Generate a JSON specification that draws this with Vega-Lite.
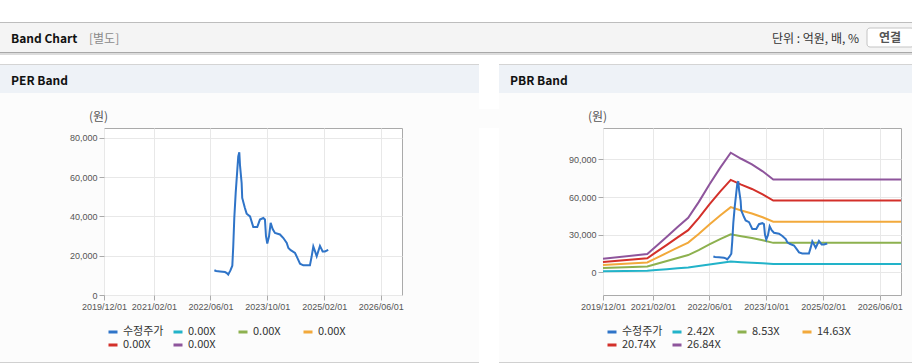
{
  "$schema": "https://vega.github.io/schema/vega-lite/v6.json",
  "background": "#fcfcfc",
  "padding": 0,
  "spacing": 0,
  "config": {
    "font": "Noto Sans CJK KR",
    "view": {"stroke": null},
    "axis": {
      "labelFont": "Liberation Sans",
      "labelFontSize": 9,
      "labelColor": "#555555",
      "tickColor": "#aaaaaa",
      "tickSize": 5,
      "gridColor": "#e8e8e8",
      "domain": false,
      "labelPadding": 2,
      "titleFont": "Noto Sans CJK KR",
      "titleFontWeight": "normal",
      "titleFontSize": 12,
      "titleColor": "#555555"
    }
  },
  "datasets": {
    "price": [
      {"date": "2022-07-05", "price": 12600},
      {"date": "2022-07-20", "price": 12200},
      {"date": "2022-08-22", "price": 12000},
      {"date": "2022-10-04", "price": 11700},
      {"date": "2022-10-20", "price": 11200},
      {"date": "2022-11-01", "price": 10400},
      {"date": "2022-11-20", "price": 12500},
      {"date": "2022-12-06", "price": 14900},
      {"date": "2022-12-14", "price": 24700},
      {"date": "2022-12-23", "price": 39200},
      {"date": "2023-01-04", "price": 52000},
      {"date": "2023-01-18", "price": 63800},
      {"date": "2023-01-26", "price": 70600},
      {"date": "2023-02-04", "price": 72600},
      {"date": "2023-02-10", "price": 66000},
      {"date": "2023-02-24", "price": 57000},
      {"date": "2023-03-01", "price": 49400},
      {"date": "2023-03-24", "price": 44300},
      {"date": "2023-04-08", "price": 41400},
      {"date": "2023-05-07", "price": 40000},
      {"date": "2023-06-04", "price": 34600},
      {"date": "2023-07-08", "price": 34600},
      {"date": "2023-07-31", "price": 38400},
      {"date": "2023-08-29", "price": 39200},
      {"date": "2023-09-12", "price": 38400},
      {"date": "2023-09-21", "price": 29900},
      {"date": "2023-10-02", "price": 26200},
      {"date": "2023-10-17", "price": 29900},
      {"date": "2023-10-31", "price": 36700},
      {"date": "2023-11-17", "price": 33600},
      {"date": "2023-12-07", "price": 31600},
      {"date": "2024-01-19", "price": 30800},
      {"date": "2024-02-17", "price": 29000},
      {"date": "2024-03-17", "price": 26500},
      {"date": "2024-03-31", "price": 23900},
      {"date": "2024-04-20", "price": 22800},
      {"date": "2024-05-27", "price": 21400},
      {"date": "2024-06-16", "price": 18900},
      {"date": "2024-07-09", "price": 15900},
      {"date": "2024-08-06", "price": 15100},
      {"date": "2024-10-02", "price": 15100},
      {"date": "2024-10-17", "price": 19700},
      {"date": "2024-10-31", "price": 24700},
      {"date": "2024-11-15", "price": 22200},
      {"date": "2024-11-29", "price": 19700},
      {"date": "2024-12-27", "price": 25000},
      {"date": "2025-01-19", "price": 22200},
      {"date": "2025-02-08", "price": 22200},
      {"date": "2025-03-08", "price": 23000}
    ],
    "bands": [
      {"date": "2019-12-01", "band": "2.42X", "value": 974},
      {"date": "2020-12-15", "band": "2.42X", "value": 1316},
      {"date": "2021-03-01", "band": "2.42X", "value": 1879},
      {"date": "2021-06-01", "band": "2.42X", "value": 2560},
      {"date": "2021-09-01", "band": "2.42X", "value": 3255},
      {"date": "2021-12-01", "band": "2.42X", "value": 3923},
      {"date": "2022-03-01", "band": "2.42X", "value": 5048},
      {"date": "2022-06-01", "band": "2.42X", "value": 6311},
      {"date": "2022-09-01", "band": "2.42X", "value": 7502},
      {"date": "2022-12-01", "band": "2.42X", "value": 8593},
      {"date": "2023-03-01", "band": "2.42X", "value": 8160},
      {"date": "2023-06-01", "band": "2.42X", "value": 7754},
      {"date": "2023-09-01", "band": "2.42X", "value": 7258},
      {"date": "2023-12-01", "band": "2.42X", "value": 6672},
      {"date": "2026-12-01", "band": "2.42X", "value": 6672},
      {"date": "2019-12-01", "band": "8.53X", "value": 3432},
      {"date": "2020-12-15", "band": "8.53X", "value": 4640},
      {"date": "2021-03-01", "band": "8.53X", "value": 6624},
      {"date": "2021-06-01", "band": "8.53X", "value": 9025},
      {"date": "2021-09-01", "band": "8.53X", "value": 11473},
      {"date": "2021-12-01", "band": "8.53X", "value": 13827},
      {"date": "2022-03-01", "band": "8.53X", "value": 17794},
      {"date": "2022-06-01", "band": "8.53X", "value": 22246},
      {"date": "2022-09-01", "band": "8.53X", "value": 26443},
      {"date": "2022-12-01", "band": "8.53X", "value": 30290},
      {"date": "2023-03-01", "band": "8.53X", "value": 28763},
      {"date": "2023-06-01", "band": "8.53X", "value": 27330},
      {"date": "2023-09-01", "band": "8.53X", "value": 25581},
      {"date": "2023-12-01", "band": "8.53X", "value": 23517},
      {"date": "2026-12-01", "band": "8.53X", "value": 23517},
      {"date": "2019-12-01", "band": "14.63X", "value": 5887},
      {"date": "2020-12-15", "band": "14.63X", "value": 7959},
      {"date": "2021-03-01", "band": "14.63X", "value": 11360},
      {"date": "2021-06-01", "band": "14.63X", "value": 15479},
      {"date": "2021-09-01", "band": "14.63X", "value": 19677},
      {"date": "2021-12-01", "band": "14.63X", "value": 23715},
      {"date": "2022-03-01", "band": "14.63X", "value": 30518},
      {"date": "2022-06-01", "band": "14.63X", "value": 38155},
      {"date": "2022-09-01", "band": "14.63X", "value": 45353},
      {"date": "2022-12-01", "band": "14.63X", "value": 51951},
      {"date": "2023-03-01", "band": "14.63X", "value": 49332},
      {"date": "2023-06-01", "band": "14.63X", "value": 46875},
      {"date": "2023-09-01", "band": "14.63X", "value": 43875},
      {"date": "2023-12-01", "band": "14.63X", "value": 40335},
      {"date": "2026-12-01", "band": "14.63X", "value": 40335},
      {"date": "2019-12-01", "band": "20.74X", "value": 8346},
      {"date": "2020-12-15", "band": "20.74X", "value": 11283},
      {"date": "2021-03-01", "band": "20.74X", "value": 16105},
      {"date": "2021-06-01", "band": "20.74X", "value": 21943},
      {"date": "2021-09-01", "band": "20.74X", "value": 27895},
      {"date": "2021-12-01", "band": "20.74X", "value": 33620},
      {"date": "2022-03-01", "band": "20.74X", "value": 43264},
      {"date": "2022-06-01", "band": "20.74X", "value": 54090},
      {"date": "2022-09-01", "band": "20.74X", "value": 64294},
      {"date": "2022-12-01", "band": "20.74X", "value": 73648},
      {"date": "2023-03-01", "band": "20.74X", "value": 69935},
      {"date": "2023-06-01", "band": "20.74X", "value": 66451},
      {"date": "2023-09-01", "band": "20.74X", "value": 62199},
      {"date": "2023-12-01", "band": "20.74X", "value": 57180},
      {"date": "2026-12-01", "band": "20.74X", "value": 57180},
      {"date": "2019-12-01", "band": "26.84X", "value": 10800},
      {"date": "2020-12-15", "band": "26.84X", "value": 14601},
      {"date": "2021-03-01", "band": "26.84X", "value": 20841},
      {"date": "2021-06-01", "band": "26.84X", "value": 28397},
      {"date": "2021-09-01", "band": "26.84X", "value": 36100},
      {"date": "2021-12-01", "band": "26.84X", "value": 43508},
      {"date": "2022-03-01", "band": "26.84X", "value": 55988},
      {"date": "2022-06-01", "band": "26.84X", "value": 69999},
      {"date": "2022-09-01", "band": "26.84X", "value": 83204},
      {"date": "2022-12-01", "band": "26.84X", "value": 95309},
      {"date": "2023-03-01", "band": "26.84X", "value": 90504},
      {"date": "2023-06-01", "band": "26.84X", "value": 85995},
      {"date": "2023-09-01", "band": "26.84X", "value": 80493},
      {"date": "2023-12-01", "band": "26.84X", "value": 73998},
      {"date": "2026-12-01", "band": "26.84X", "value": 73998}
    ]
  },
  "vconcat": [
    {"width": 912, "height": 22, "data": {"values": []}, "mark": "point", "view": {"fill": "#ffffff"}},
    {"width": 912, "height": 1, "data": {"values": []}, "mark": "point", "view": {"fill": "#bdbdbd"}},
    {
      "width": 912, "height": 29,
      "view": {"fill": "#f4f4f4"},
      "data": {"values": [{}]},
      "layer": [
        {"mark": {"type": "text", "text": "Band Chart", "x": 11, "y": 20, "align": "left", "baseline": "alphabetic", "fontSize": 12, "fontWeight": "bold", "color": "#111111"}},
        {"mark": {"type": "text", "text": "[별도]", "x": 89, "y": 20, "align": "left", "baseline": "alphabetic", "fontSize": 12, "color": "#8a8a8a"}},
        {"mark": {"type": "text", "text": "단위 : 억원, 배, %", "x": 859, "y": 20, "align": "right", "baseline": "alphabetic", "fontSize": 12, "color": "#333333"}},
        {"mark": {"type": "rect", "x": 867, "x2": 914, "y": 5, "y2": 24, "fill": "#ffffff", "stroke": "#c4c4c4", "cornerRadius": 3}},
        {"mark": {"type": "text", "text": "연결", "x": 890, "y": 19, "align": "center", "baseline": "alphabetic", "fontSize": 12, "fontWeight": "bold", "color": "#555555"}}
      ]
    },
    {"width": 912, "height": 1, "data": {"values": []}, "mark": "point", "view": {"fill": "#a8a8a8"}},
    {"width": 912, "height": 2, "data": {"values": []}, "mark": "point", "view": {"fill": "#dcdcdc"}},
    {"width": 912, "height": 9, "data": {"values": []}, "mark": "point", "view": {"fill": "#ffffff"}},
    {
      "spacing": 0, "bounds": "flush",
      "hconcat": [
        {"width": 479, "height": 1, "data": {"values": []}, "mark": "point", "view": {"fill": "#d4d4d4"}},
        {"width": 20, "height": 1, "data": {"values": []}, "mark": "point", "view": {"fill": "#ffffff"}},
        {"width": 413, "height": 1, "data": {"values": []}, "mark": "point", "view": {"fill": "#d4d4d4"}}
      ]
    },
    {
      "spacing": 0, "bounds": "flush",
      "hconcat": [
        {"width": 479, "height": 28, "view": {"fill": "#eef2f7"}, "data": {"values": [{}]},
         "mark": {"type": "text", "text": "PER Band", "x": 11, "y": 20, "align": "left", "baseline": "alphabetic", "fontSize": 12, "fontWeight": "bold", "color": "#111111"}},
        {"width": 20, "height": 28, "data": {"values": []}, "mark": "point", "view": {"fill": "#ffffff"}},
        {"width": 413, "height": 28, "view": {"fill": "#eef2f7"}, "data": {"values": [{}]},
         "mark": {"type": "text", "text": "PBR Band", "x": 11, "y": 20, "align": "left", "baseline": "alphabetic", "fontSize": 12, "fontWeight": "bold", "color": "#111111"}}
      ]
    },
    {
      "spacing": 0, "bounds": "flush",
      "hconcat": [
        {"width": 479, "height": 16, "data": {"values": []}, "mark": "point"},
        {"width": 20, "height": 16, "data": {"values": []}, "mark": "point", "view": {"fill": "#ffffff"}},
        {"width": 413, "height": 16, "data": {"values": []}, "mark": "point"}
      ]
    },
    {
      "spacing": 0, "bounds": "flush",
      "resolve": {"scale": {"x": "independent", "y": "independent", "color": "independent"}, "legend": {"color": "independent"}, "axis": {"x": "independent", "y": "independent"}},
      "hconcat": [
        {"width": 104, "height": 167, "data": {"values": []}, "mark": "point"},
        {
          "width": 298, "height": 167,
          "view": {"fill": "#ffffff", "stroke": "#aaaaaa"},
          "data": {"name": "price"},
          "mark": {"type": "line", "strokeWidth": 2},
          "encoding": {
            "x": {"field": "date", "type": "temporal",
              "scale": {"type": "utc", "domain": [{"year": 2019, "month": 12, "date": 1, "utc": true}, {"year": 2026, "month": 12, "date": 1, "utc": true}]},
              "axis": {"title": null, "format": "%Y/%m/%d", "labelFlush": false, "labelOverlap": false,
                "values": [{"year": 2019, "month": 12, "date": 1, "utc": true}, {"year": 2021, "month": 2, "date": 1, "utc": true}, {"year": 2022, "month": 6, "date": 1, "utc": true}, {"year": 2023, "month": 10, "date": 1, "utc": true}, {"year": 2025, "month": 2, "date": 1, "utc": true}, {"year": 2026, "month": 6, "date": 1, "utc": true}]}},
            "y": {"field": "price", "type": "quantitative",
              "scale": {"domain": [0, 85000], "nice": false, "zero": false},
              "axis": {"title": "(원)", "titleAngle": 0, "titleX": -6, "titleY": -17, "titleAlign": "center", "titleBaseline": "top", "values": [0, 20000, 40000, 60000, 80000], "format": ",d"}},
            "color": {"datum": "수정주가", "type": "nominal",
              "scale": {"domain": ["수정주가", "p1", "p2", "p3", "p4", "p5"], "range": ["#2f74c8", "#22b3c9", "#8db14f", "#f2a93b", "#d3302a", "#8e559c"]},
              "legend": {"title": null, "orient": "none", "legendX": 3, "legendY": 198, "direction": "horizontal", "columns": 4, "symbolType": "stroke", "symbolSize": 81, "symbolStrokeWidth": 3, "labelFont": "Noto Sans CJK KR", "labelFontSize": 11, "labelColor": "#333333", "labelOffset": 4, "columnPadding": 3, "rowPadding": 1, "gridAlign": "all", "padding": 0,
                "labelExpr": "datum.label == '수정주가' ? datum.label : '0.00X'"}}
          }
        },
        {"width": 77, "height": 167, "data": {"values": []}, "mark": "point"},
        {"width": 20, "height": 234, "data": {"values": []}, "mark": "point", "view": {"fill": "#ffffff"}},
        {"width": 104, "height": 167, "data": {"values": []}, "mark": "point"},
        {
          "width": 298, "height": 167,
          "view": {"fill": "#ffffff", "stroke": "#aaaaaa"},
          "encoding": {
            "x": {"field": "date", "type": "temporal",
              "scale": {"type": "utc", "domain": [{"year": 2019, "month": 12, "date": 1, "utc": true}, {"year": 2026, "month": 12, "date": 1, "utc": true}]},
              "axis": {"title": null, "format": "%Y/%m/%d", "labelFlush": false, "labelOverlap": false,
                "values": [{"year": 2019, "month": 12, "date": 1, "utc": true}, {"year": 2021, "month": 2, "date": 1, "utc": true}, {"year": 2022, "month": 6, "date": 1, "utc": true}, {"year": 2023, "month": 10, "date": 1, "utc": true}, {"year": 2025, "month": 2, "date": 1, "utc": true}, {"year": 2026, "month": 6, "date": 1, "utc": true}]}}
          },
          "layer": [
            {
              "data": {"name": "bands"},
              "mark": {"type": "line", "strokeWidth": 2},
              "encoding": {
                "y": {"field": "value", "type": "quantitative",
                  "scale": {"domain": [-18000, 115000], "nice": false, "zero": false},
                  "axis": {"title": "(원)", "titleAngle": 0, "titleX": -6, "titleY": -17, "titleAlign": "center", "titleBaseline": "top", "values": [0, 30000, 60000, 90000], "format": ",d"}},
                "color": {"field": "band", "type": "nominal",
                  "scale": {"domain": ["수정주가", "2.42X", "8.53X", "14.63X", "20.74X", "26.84X"], "range": ["#2f74c8", "#22b3c9", "#8db14f", "#f2a93b", "#d3302a", "#8e559c"]},
                  "legend": {"title": null, "orient": "none", "legendX": 3, "legendY": 198, "direction": "horizontal", "columns": 4, "symbolType": "stroke", "symbolSize": 81, "symbolStrokeWidth": 3, "labelFont": "Noto Sans CJK KR", "labelFontSize": 11, "labelColor": "#333333", "labelOffset": 4, "columnPadding": 3, "rowPadding": 1, "gridAlign": "all", "padding": 0}}
              }
            },
            {
              "data": {"name": "price"},
              "mark": {"type": "line", "strokeWidth": 2},
              "encoding": {
                "y": {"field": "price", "type": "quantitative",
                  "scale": {"domain": [-18000, 115000], "nice": false, "zero": false},
                  "axis": {"title": "(원)", "titleAngle": 0, "titleX": -6, "titleY": -17, "titleAlign": "center", "titleBaseline": "top", "values": [0, 30000, 60000, 90000], "format": ",d"}},
                "color": {"datum": "수정주가", "type": "nominal"}
              }
            }
          ]
        },
        {"width": 11, "height": 167, "data": {"values": []}, "mark": "point"}
      ]
    },
    {
      "spacing": 0, "bounds": "flush",
      "hconcat": [
        {"width": 479, "height": 1, "data": {"values": []}, "mark": "point", "view": {"fill": "#d0d0d0"}},
        {"width": 20, "height": 1, "data": {"values": []}, "mark": "point", "view": {"fill": "#ffffff"}},
        {"width": 413, "height": 1, "data": {"values": []}, "mark": "point", "view": {"fill": "#d0d0d0"}}
      ]
    },
    {"width": 912, "height": 1, "data": {"values": []}, "mark": "point", "view": {"fill": "#ffffff"}}
  ]
}
